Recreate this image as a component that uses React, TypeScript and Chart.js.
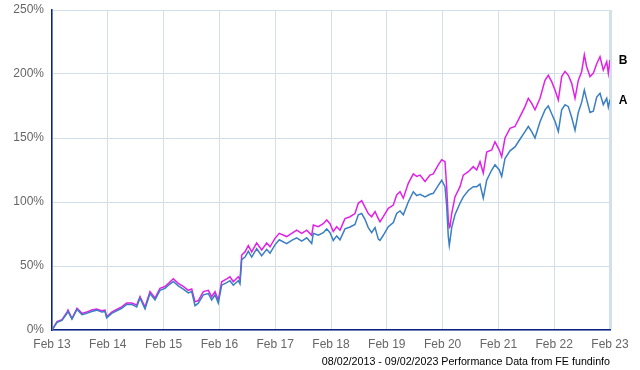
import React, { useEffect, useRef } from "react";
import { Chart, registerables } from "chart.js";

Chart.register(...registerables);

const xTickLabels = ["Feb 13", "Feb 14", "Feb 15", "Feb 16", "Feb 17", "Feb 18", "Feb 19", "Feb 20", "Feb 21", "Feb 22", "Feb 23"];
const yTickValues = [0, 50, 100, 150, 200, 250];
const seriesNames = ["A", "B"];
const footerText = "08/02/2013 - 09/02/2023 Performance Data from FE fundinfo";

// time in years since 08/02/2013
const xYears = [
  0, 0.09, 0.179, 0.269, 0.287, 0.358, 0.448, 0.538, 0.622, 0.711, 0.801, 0.891, 0.95, 0.98,
  1.07, 1.159, 1.249, 1.339, 1.428, 1.518, 1.577, 1.667, 1.756, 1.846, 1.935, 2.025, 2.102,
  2.174, 2.263, 2.353, 2.443, 2.504, 2.563, 2.622, 2.712, 2.801, 2.862, 2.921, 2.98, 3.041,
  3.131, 3.19, 3.249, 3.339, 3.369, 3.4, 3.459, 3.518, 3.579, 3.668, 3.758, 3.848, 3.907,
  3.996, 4.073, 4.206, 4.296, 4.385, 4.475, 4.565, 4.654, 4.683, 4.772, 4.862, 4.923, 4.982,
  5.041, 5.102, 5.161, 5.251, 5.341, 5.43, 5.489, 5.55, 5.609, 5.668, 5.729, 5.789, 5.848,
  5.878, 5.937, 6.027, 6.117, 6.177, 6.237, 6.296, 6.385, 6.475, 6.536, 6.595, 6.685, 6.774,
  6.833, 6.923, 6.984, 7.043, 7.073, 7.102, 7.12, 7.133, 7.163, 7.222, 7.312, 7.371, 7.461,
  7.55, 7.611, 7.67, 7.729, 7.79, 7.88, 7.939, 8.016, 8.059, 8.118, 8.208, 8.297, 8.387,
  8.477, 8.536, 8.597, 8.656, 8.746, 8.835, 8.894, 8.955, 9.014, 9.074, 9.134, 9.194, 9.253,
  9.314, 9.373, 9.432, 9.493, 9.54, 9.582, 9.642, 9.701, 9.762, 9.821, 9.88, 9.941, 9.97, 10,
];

const seriesB = [
  0, 6.5, 8, 14, 15.6, 9, 17, 13, 14, 15.6, 16.4, 15, 15.6, 10.4,
  14, 16, 18, 21, 21, 19.5, 26, 18, 30, 25, 32.5, 34, 37,
  40, 36.5, 34, 31, 32, 22, 23, 30, 31, 26, 30, 23.4, 37.7,
  40, 41.6, 37.7, 41.6, 39, 58.6, 61, 66, 61, 68, 62.5, 68, 65,
  71.6, 75.5, 73, 75.5, 78, 75.5, 78, 74, 82, 80.7, 83, 86, 83,
  77, 80.7, 78, 87, 88.5, 91, 99, 101, 96, 91, 88.5, 92.5, 87,
  84.6, 88.5, 95, 97.6, 105.5, 108, 103, 114.6, 122, 120, 121, 116, 121,
  122, 129, 133, 131.5, 112, 86, 80, 80.7, 91, 104, 112, 121, 123.7,
  127.6, 125, 131.5, 122.6, 139, 140.6, 147, 140.6, 135.4, 150, 157.5, 159, 166.7,
  174.5, 181, 177, 172, 181, 195, 199, 194, 187.5, 179.7, 198, 202, 199,
  192.7, 181, 195, 202, 215, 205.7, 198, 200.5, 208, 213.5, 203, 209.6, 200.5, 211,
];

const seriesA = [
  0, 6, 7.5, 13, 14.5, 8.5, 16, 12, 13, 14.5, 15.5, 14, 14.5, 9.5,
  13, 15, 17, 20, 20, 18, 25, 16.5, 28.5, 23.5, 31, 32.5, 35.5,
  38, 34.5, 32, 29, 30, 19, 21, 27.5, 28.5, 23.5, 27.5, 21, 35,
  37, 38.5, 35, 38.5, 36, 55, 57, 61.5, 57, 63.5, 58, 63, 60,
  66.5, 70.5, 67.5, 70, 72, 69.5, 72, 67.5, 75.5, 74, 76, 79, 76,
  70, 73.5, 70.5, 79, 80.5, 82.5, 90, 91, 86.5, 80, 76, 80, 71,
  70, 74, 80.7, 84, 91, 93, 90, 100, 108, 105, 106, 104, 106,
  106.8, 113, 117, 112, 97, 73, 66, 70, 80, 90, 99, 104, 109,
  112, 112, 114, 103, 117, 125, 129, 125, 120, 134, 140, 143, 149,
  155, 159, 155, 150, 162.7, 172, 175, 169, 163, 155, 172, 176, 174.5,
  166, 156, 170, 178, 187.5, 180, 170, 171, 182, 185, 176, 181, 174, 180,
];

const colorA = "#3a7fc2";
const colorB = "#e022e6";
const gridColor = "#d3e0ea";
const axisColor = "#0d2384";

export default function App() {
  const canvasRef = useRef<HTMLCanvasElement | null>(null);

  useEffect(() => {
    document.body.style.margin = "0";
    const canvas = canvasRef.current;
    if (!canvas) return;

    const endLabels = {
      id: "endLabels",
      afterDatasetsDraw(chart: any) {
        const ctx = chart.ctx;
        const area = chart.chartArea;
        const yScale = chart.scales.y;
        ctx.save();
        ctx.fillStyle = "#000";
        ctx.font = "bold 12px 'Liberation Sans', Arial, sans-serif";
        ctx.textAlign = "center";
        ctx.textBaseline = "middle";
        chart.data.datasets.forEach((ds: any) => {
          const last = ds.data[ds.data.length - 1];
          ctx.fillText(ds.label, area.right + 13, yScale.getPixelForValue(last.y) + 1);
        });
        ctx.font = "10.7px 'Liberation Sans', Arial, sans-serif";
        ctx.textAlign = "right";
        ctx.textBaseline = "alphabetic";
        ctx.fillText(footerText, area.right, chart.height - 5);
        ctx.restore();
      },
    };

    const mk = (vals: number[]) => vals.map((v, i) => ({ x: xYears[i], y: v }));

    const chart = new Chart(canvas, {
      type: "line",
      data: {
        datasets: [
          {
            label: seriesNames[0],
            data: mk(seriesA),
            borderColor: colorA,
            borderWidth: 1.5,
            pointRadius: 0,
            tension: 0,
          },
          {
            label: seriesNames[1],
            data: mk(seriesB),
            borderColor: colorB,
            borderWidth: 1.5,
            pointRadius: 0,
            tension: 0,
          },
        ],
      },
      options: {
        responsive: false,
        animation: false,
        layout: { padding: { top: 10, right: 30, bottom: 0, left: 0 } },
        plugins: {
          legend: { display: false },
          tooltip: { enabled: false },
        },
        scales: {
          x: {
            type: "linear",
            min: 0,
            max: 10,
            afterBuildTicks: (scale: any) => {
              scale.ticks = xTickLabels.map((_, i) => ({ value: i }));
            },
            afterFit: (scale: any) => {
              scale.height = 40;
              scale.paddingLeft = 0;
              scale.paddingRight = 0;
            },
            ticks: {
              padding: 7,
              color: "#666",
              font: { family: "'Liberation Sans', Arial, sans-serif", size: 12 },
              callback: (v: any) => xTickLabels[Math.round(Number(v))],
              maxRotation: 0,
            },
            grid: {
              color: gridColor,
              drawTicks: false,
              lineWidth: (ctx: any) => (ctx.index === xTickLabels.length - 1 ? 3 : 1),
            },
            border: { color: axisColor, width: 1.5 },
          },
          y: {
            min: 0,
            max: 250,
            afterBuildTicks: (scale: any) => {
              scale.ticks = yTickValues.map((v) => ({ value: v }));
            },
            afterFit: (scale: any) => {
              scale.width = 52;
              scale.paddingTop = 0;
              scale.paddingBottom = 0;
            },
            ticks: {
              padding: 8,
              color: "#666",
              font: { family: "'Liberation Sans', Arial, sans-serif", size: 12 },
              callback: (v: any) => v + "%",
            },
            grid: { color: gridColor, drawTicks: false },
            border: { color: axisColor, width: 1.5 },
          },
        },
      },
      plugins: [endLabels],
    } as any);

    return () => chart.destroy();
  }, []);

  return (
    <div style={{ position: "fixed", left: 0, top: 0, width: 640, height: 370, background: "#fff" }}>
      <canvas ref={canvasRef} width={640} height={370} />
    </div>
  );
}
